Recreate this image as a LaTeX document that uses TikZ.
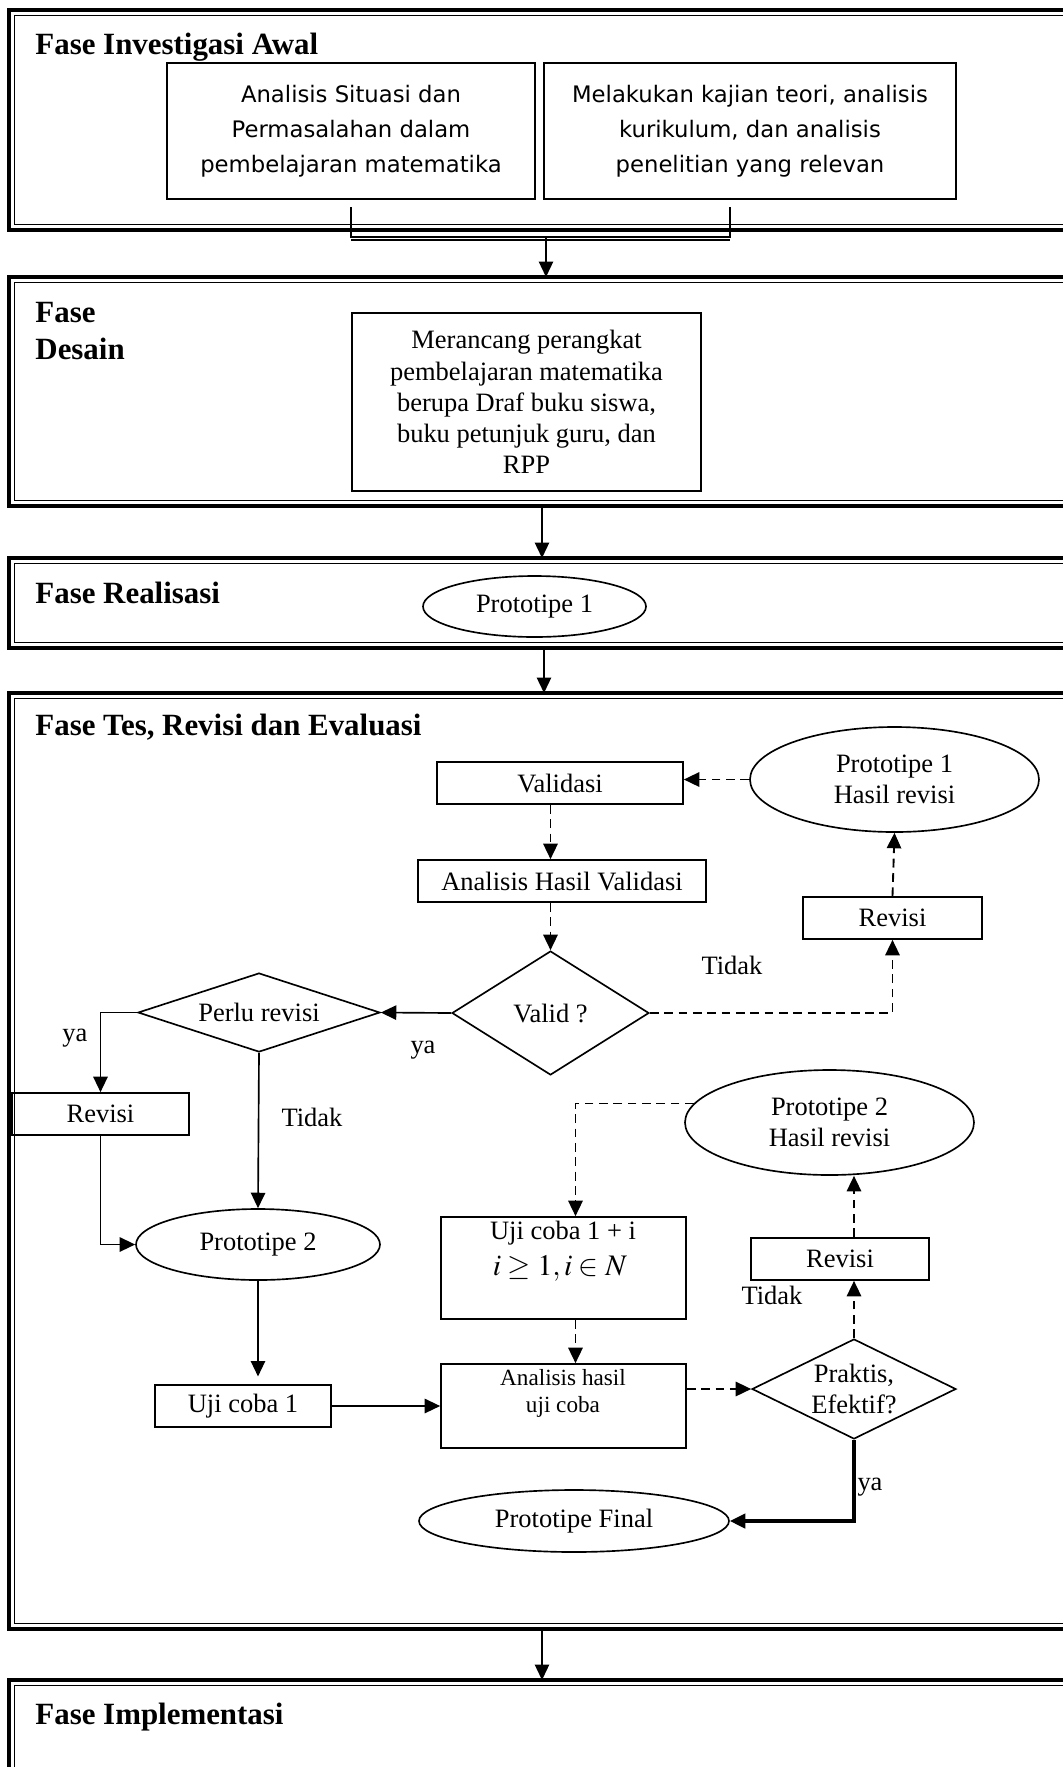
\documentclass[tikz,border=0pt]{standalone}
\usepackage{mathptmx}
\usepackage{fontspec}
\setmainfont{Liberation Serif}
\newfontfamily\sansbox{DejaVu Sans}
\usetikzlibrary{shapes.geometric, arrows.meta, calc}

\newlength\pxu
\setlength\pxu{0.453pt}

% double frame of one phase (top, bottom)
\newcommand\fase[2]{%
\draw[line width=1.4pt] (9,#1) rectangle (1100,#2);
\draw[line width=0.6pt] (14.5,#1+5.5) rectangle (1094,#2-5.5);}

\begin{document}
\begin{tikzpicture}[x=\pxu, y=-\pxu,
  font=\fontsize{12}{14}\selectfont,
  judul/.style={font=\fontsize{14}{16.8}\selectfont\bfseries, anchor=west, inner sep=0pt, align=left},
  kotak/.style={draw, line width=0.75pt, rectangle, inner sep=0pt, align=center},
  elips/.style={draw, line width=0.75pt, ellipse, inner sep=0pt, align=center},
  belah/.style={draw, line width=0.75pt, diamond, inner sep=0pt, align=center},
  ket/.style={inner sep=0pt},
  panah/.style={->, line width=0.75pt},
  putus/.style={->, line width=0.85pt, dash pattern=on 4pt off 2.5pt},
  >={Triangle[length=7pt, width=6.5pt]}]

\useasboundingbox (0,0) rectangle (1063,1767);
\clip (0,0) rectangle (1063,1767);

% Fase Investigasi Awal
\fase{10}{230}
\node[judul] (jdl1) at (35,47) {Fase Investigasi Awal};
\node[kotak, minimum width=368\pxu, minimum height=136\pxu, font=\sansbox\fontsize{10.3}{15.9}\selectfont] (situasi) at (351,131) {Analisis Situasi dan\\Permasalahan dalam\\pembelajaran matematika};
\node[kotak, minimum width=412\pxu, minimum height=136\pxu, font=\sansbox\fontsize{10.3}{15.9}\selectfont] (kajian) at (750,131) {Melakukan kajian teori, analisis\\kurikulum, dan analisis\\penelitian yang relevan};

% bracket under both boxes
\coordinate (kiri) at (351,207);
\coordinate (kanan) at (730,207);
\coordinate (tengah) at (546,237);
\draw[line width=0.6pt] (kiri) |- (tengah) -| (kanan);
\draw[line width=0.6pt] ($(kiri |- tengah)+(0,3)$) -- ($(kanan |- tengah)+(0,3)$);
\coordinate (f2atas) at (546,277);
\draw[panah] (tengah) -- (f2atas);

% Fase Desain
\fase{277}{506}
\node[judul] (jdl2) at (35,331) {Fase\\Desain};
\node[kotak, minimum width=349\pxu, minimum height=178\pxu, font=\fontsize{12}{14.1}\selectfont] (rancang) at (526.5,402) {Merancang perangkat\\pembelajaran matematika\\berupa Draf buku siswa,\\buku petunjuk guru, dan\\RPP};
\coordinate (f2bawah) at (542,506);
\coordinate (f3atas) at (542,558);
\draw[panah] (f2bawah) -- (f3atas);

% Fase Realisasi
\fase{558}{648}
\node[judul] (jdl3) at (35,593) {Fase Realisasi};
\node[elips, minimum width=223\pxu, minimum height=61\pxu] (proto1) at (534.5,606.5) {Prototipe 1};
\coordinate (f3bawah) at (544,648);
\coordinate (f4atas) at (544,693);
\draw[panah] (f3bawah) -- (f4atas);

% Fase Tes, Revisi dan Evaluasi
\fase{693}{1629}
\node[judul] (jdl4) at (35,727) {Fase Tes, Revisi dan Evaluasi};

\node[kotak, minimum width=246\pxu, minimum height=42\pxu] (validasi) at (560,783) {Validasi};
\node[elips, minimum width=289\pxu, minimum height=105\pxu] (proto1r) at (894.5,779.5) {Prototipe 1\\Hasil revisi};
\node[kotak, minimum width=288\pxu, minimum height=42\pxu] (anvalid) at (562,881) {Analisis Hasil Validasi};
\node[belah, minimum width=197\pxu, minimum height=124\pxu, aspect=1.59] (valid) at (550.5,1013) {Valid ?};
\node[kotak, minimum width=179\pxu, minimum height=42\pxu] (revisi1) at (892.5,918) {Revisi};
\node[belah, minimum width=242\pxu, minimum height=79\pxu, aspect=3.06] (perlu) at (259,1012.5) {Perlu revisi};
\node[kotak, minimum width=177\pxu, minimum height=42\pxu] (revisi2) at (100.5,1114) {Revisi};
\node[elips, minimum width=244\pxu, minimum height=71\pxu] (proto2) at (258,1244.5) {Prototipe 2};
\node[kotak, minimum width=176\pxu, minimum height=42\pxu] (uji1) at (243,1406) {Uji coba 1};
\node[kotak, minimum width=245\pxu, minimum height=102\pxu] (ujii) at (563.5,1268) {};
\node[ket] (ujiteks) at (563,1233) {Uji coba 1 + i};
\node[ket, font=\fontsize{13.5}{16}\selectfont] (ujisyarat) at (560,1268) {$i \ge 1, i \in N$};
\node[kotak, minimum width=245\pxu, minimum height=84\pxu] (anhasil) at (563.5,1406) {};
\node[ket, align=center, font=\fontsize{10.5}{12.2}\selectfont] (anteks) at (563,1393) {Analisis hasil\\uji coba};
\node[elips, minimum width=289\pxu, minimum height=105\pxu] (proto2r) at (829.5,1122.5) {Prototipe 2\\Hasil revisi};
\node[kotak, minimum width=178\pxu, minimum height=42\pxu] (revisi3) at (840,1259) {Revisi};
\node[belah, minimum width=204\pxu, minimum height=100\pxu, aspect=2.04] (praktis) at (854,1389) {Praktis,\\Efektif?};
\node[elips, minimum width=310\pxu, minimum height=62\pxu] (final) at (574,1521) {Prototipe Final};

% labels on the branches
\node[ket] (tidak1) at (732,965) {Tidak};
\node[ket] (ya1) at (423,1050) {ya};
\node[ket] (ya2) at (75,1038) {ya};
\node[ket] (tidak2) at (312,1117) {Tidak};
\node[ket] (tidak3) at (772,1295) {Tidak};
\node[ket] (ya3) at (870,1487) {ya};

% validation loop
\draw[putus] (proto1r.west) -- (validasi.east |- proto1r.west);
\draw[putus] (validasi.south -| valid.north) -- (anvalid.north -| valid.north);
\draw[putus] (anvalid.south -| valid.north) -- (valid.north);
\draw[putus] (valid.east) -| (revisi1.south);
\draw[putus] (revisi1.north) -- (proto1r.south);

% yes branch
\draw[panah] (valid.west) -- (perlu.east);
\draw[panah] (perlu.west) -| (revisi2.north);
\draw[panah] (perlu.south) -- (proto2.north);
\draw[panah] (revisi2.south) |- (proto2.west);
\draw[panah, shorten >=3.5pt] (proto2.south) -- (proto2.south |- uji1.north);
\draw[panah] (uji1.east) -- (anhasil.west);

% trial loop
\coordinate (ujix) at ($(ujii.north)+(12,0)$);
\draw[putus] (proto2r.172) -| (ujix);
\draw[putus] (ujii.south -| ujix) -- (anhasil.north -| ujix);
\draw[putus] (anhasil.east |- praktis.west) -- (praktis.west);
\draw[putus] (praktis.north) -- (revisi3.south -| praktis.north);
\draw[putus] (revisi3.north -| praktis.north) -- (proto2r.south -| praktis.north);
\draw[panah, line width=1.4pt] (praktis.south) |- (final.east);

\coordinate (f4bawah) at (542,1629);
\coordinate (f5atas) at (542,1680);
\draw[panah] (f4bawah) -- (f5atas);

% Fase Implementasi
\fase{1680}{1850}
\node[judul] (jdl5) at (35,1717) {Fase Implementasi};

\end{tikzpicture}
\end{document}
